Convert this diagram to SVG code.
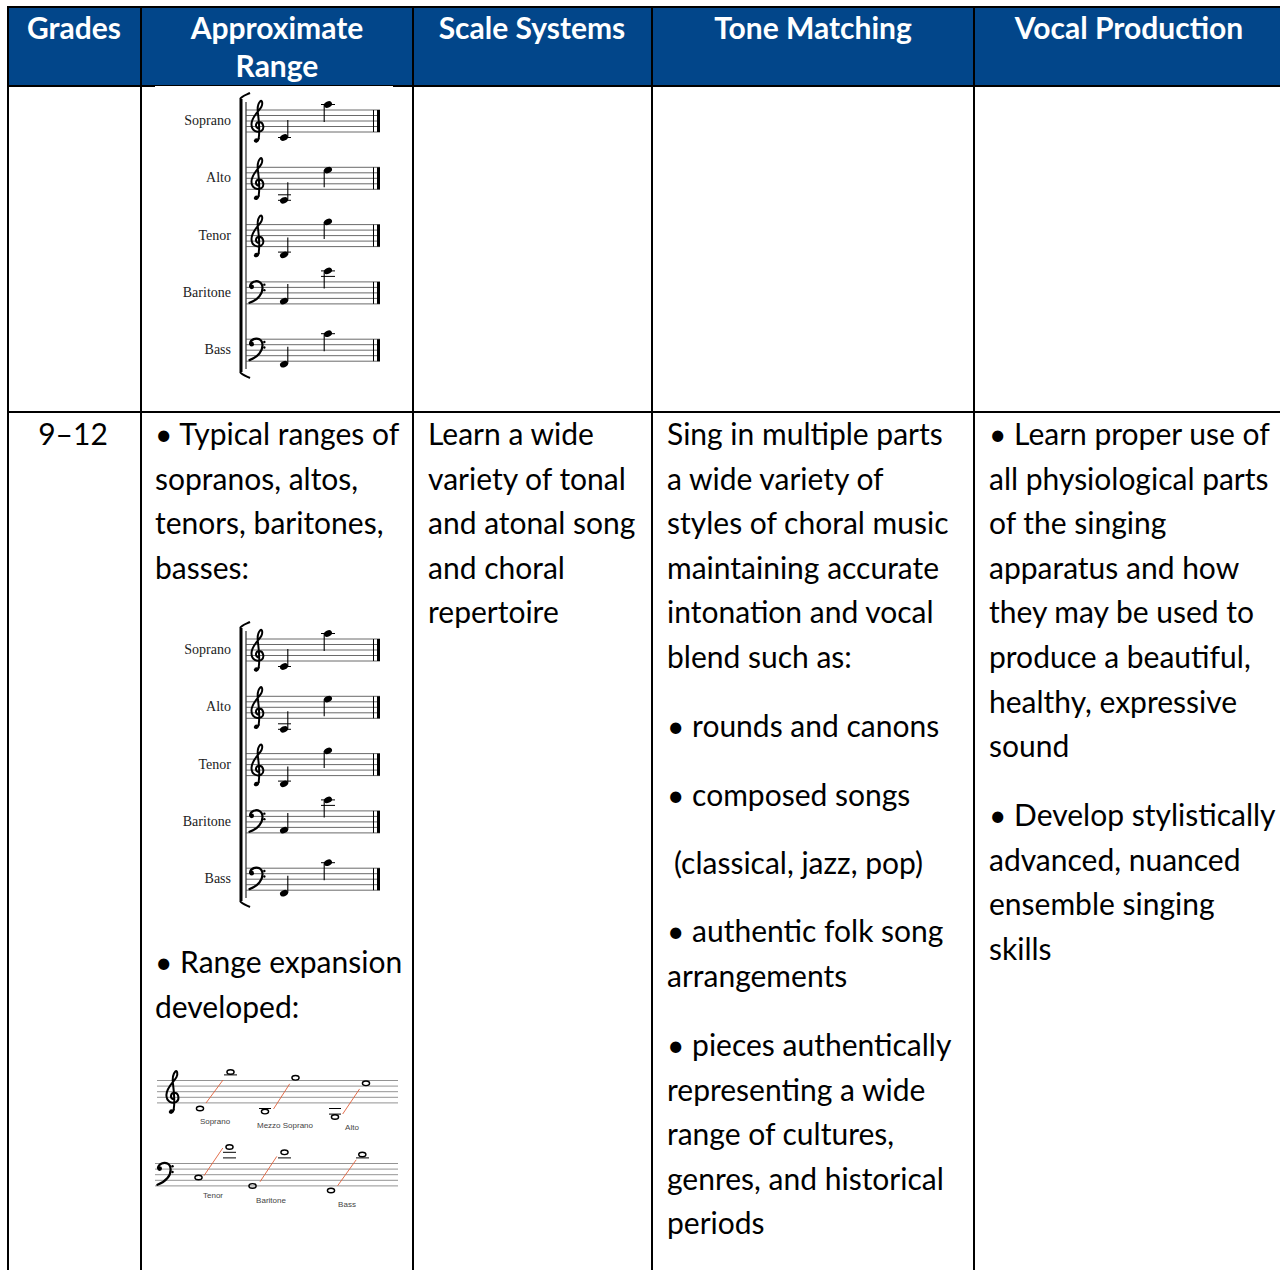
<svg xmlns="http://www.w3.org/2000/svg" xmlns:xlink="http://www.w3.org/1999/xlink" width="1280" height="1270" viewBox="0 0 1280 1270">
<style>
.hd{font-family:Lato,"Liberation Sans",sans-serif;font-weight:bold;font-size:30px;fill:#fff;text-anchor:middle}
.tx{font-family:Lato,"Liberation Sans",sans-serif;font-size:30px;fill:#000}
.grid{stroke:#000;stroke-width:2;fill:none}
.lbl{font-family:"Liberation Serif",serif;font-size:14px;fill:#222;text-anchor:end}
.sl{stroke:#444;stroke-width:0.8}
.nh{fill:#000}
.stem{stroke:#000;stroke-width:1.1}
.led{stroke:#000;stroke-width:1}
.clef{fill:none;stroke:#000;stroke-width:3.6;stroke-linecap:round}
.rl{stroke:#777;stroke-width:0.8}
.wn{fill:none;stroke:#000;stroke-width:1.4}
.red{stroke:#e0603a;stroke-width:0.9}
.sm{font-family:"Liberation Sans",sans-serif;font-size:8px;fill:#444;text-anchor:middle}
</style>
<defs>
<g id="treble"><path class="clef" d="M3,52 C5,40 4,24 2,8 C0,-4 2,-12 6,-16 C9,-19 11,-12 8,-6 C4,2 -10,12 -10,26 C-10,38 0,42 8,38 C14,34 12,22 4,22 C-2,22 -4,30 1,33"/><path class="clef" d="M3,52 C2,58 -3,59 -4,56"/><circle cx="-1" cy="55" r="3.8"/></g>
<g id="bass"><circle cx="-6" cy="9" r="4.2"/><path class="clef" d="M-9,8 C-8,0 2,-3 8,0 C16,4 15,18 8,26 C3,32 -4,36 -10,38" style="stroke-width:4"/><circle cx="17" cy="5" r="2.2"/><circle cx="17" cy="15" r="2.2"/></g>
<g id="staff"><line class="sl" x1="246" y1="0" x2="380" y2="0"/><line class="sl" x1="246" y1="5.5" x2="380" y2="5.5"/><line class="sl" x1="246" y1="11" x2="380" y2="11"/><line class="sl" x1="246" y1="16.5" x2="380" y2="16.5"/><line class="sl" x1="246" y1="22" x2="380" y2="22"/><line x1="373.5" y1="0" x2="373.5" y2="22" stroke="#000" stroke-width="1"/><line x1="378.5" y1="0" x2="378.5" y2="22" stroke="#000" stroke-width="3"/></g>
<g id="choir">
<rect x="155" y="86" width="238" height="290" fill="#fff"/>
<path d="M241,99 L241,372" stroke="#000" stroke-width="3"/>
<path d="M240,99 C242,96 246,95 250,93" fill="none" stroke="#000" stroke-width="2"/>
<path d="M240,372 C242,375 246,376 250,378" fill="none" stroke="#000" stroke-width="2"/>
<line x1="246" y1="102" x2="246" y2="369" stroke="#000" stroke-width="1"/>
<g transform="translate(0,110)"><use xlink:href="#staff"/><use xlink:href="#treble" transform="translate(257,0) scale(0.55)"/>
<line class="led" x1="278" y1="27.5" x2="291" y2="27.5"/><ellipse class="nh" cx="284" cy="27.5" rx="4.2" ry="3" transform="rotate(-25 284 27.5)"/><line class="stem" x1="287.8" y1="27" x2="287.8" y2="10"/>
<line class="led" x1="321" y1="-5.5" x2="335" y2="-5.5"/><ellipse class="nh" cx="328" cy="-5.5" rx="4.2" ry="3" transform="rotate(-25 328 -5.5)"/><line class="stem" x1="324.2" y1="-5" x2="324.2" y2="12"/></g>
<text class="lbl" x="231" y="125">Soprano</text>
<g transform="translate(0,167.3)"><use xlink:href="#staff"/><use xlink:href="#treble" transform="translate(257,0) scale(0.55)"/>
<line class="led" x1="278" y1="27.5" x2="291" y2="27.5"/><line class="led" x1="278" y1="33" x2="291" y2="33"/><ellipse class="nh" cx="284" cy="33" rx="4.2" ry="3" transform="rotate(-25 284 33)"/><line class="stem" x1="287.8" y1="32.5" x2="287.8" y2="15"/>
<ellipse class="nh" cx="328" cy="2.75" rx="4.2" ry="3" transform="rotate(-25 328 2.75)"/><line class="stem" x1="324.2" y1="3" x2="324.2" y2="20"/></g>
<text class="lbl" x="231" y="182.3">Alto</text>
<g transform="translate(0,224.6)"><use xlink:href="#staff"/><use xlink:href="#treble" transform="translate(257,0) scale(0.55)"/>
<line class="led" x1="278" y1="27.5" x2="291" y2="27.5"/><ellipse class="nh" cx="284" cy="30.25" rx="4.2" ry="3" transform="rotate(-25 284 30.25)"/><line class="stem" x1="287.8" y1="29.8" x2="287.8" y2="13"/>
<ellipse class="nh" cx="328" cy="-2.75" rx="4.2" ry="3" transform="rotate(-25 328 -2.75)"/><line class="stem" x1="324.2" y1="-2.5" x2="324.2" y2="14.5"/></g>
<text class="lbl" x="231" y="239.6">Tenor</text>
<g transform="translate(0,281.9)"><use xlink:href="#staff"/><use xlink:href="#bass" transform="translate(255,0) scale(0.55)"/>
<ellipse class="nh" cx="284" cy="19.25" rx="4.2" ry="3" transform="rotate(-25 284 19.25)"/><line class="stem" x1="287.8" y1="18.8" x2="287.8" y2="2"/>
<line class="led" x1="321" y1="-5.5" x2="335" y2="-5.5"/><line class="led" x1="321" y1="-11" x2="335" y2="-11"/><ellipse class="nh" cx="328" cy="-11" rx="4.2" ry="3" transform="rotate(-25 328 -11)"/><line class="stem" x1="324.2" y1="-10.5" x2="324.2" y2="6.5"/></g>
<text class="lbl" x="231" y="296.9">Baritone</text>
<g transform="translate(0,339.2)"><use xlink:href="#staff"/><use xlink:href="#bass" transform="translate(255,0) scale(0.55)"/>
<ellipse class="nh" cx="284" cy="25" rx="4.2" ry="3" transform="rotate(-25 284 25)"/><line class="stem" x1="287.8" y1="24.5" x2="287.8" y2="7.5"/>
<line class="led" x1="321" y1="-5.5" x2="335" y2="-5.5"/><ellipse class="nh" cx="328" cy="-5.5" rx="4.2" ry="3" transform="rotate(-25 328 -5.5)"/><line class="stem" x1="324.2" y1="-5" x2="324.2" y2="12"/></g>
<text class="lbl" x="231" y="354.2">Bass</text>
</g>
</defs>

<g id="header">
<rect x="8" y="7" width="1280" height="79" fill="#02468a"/>
<text class="hd" x="74" y="39">Grades</text>
<text class="hd" x="277" y="39">Approximate</text>
<text class="hd" x="277" y="77">Range</text>
<text class="hd" x="532" y="39">Scale Systems</text>
<text class="hd" x="813" y="39">Tone Matching</text>
<text class="hd" x="1129" y="39">Vocal Production</text>
</g>

<g id="grid">
<line class="grid" x1="7" y1="7" x2="1290" y2="7"/>
<line class="grid" x1="7" y1="86" x2="1290" y2="86"/>
<line class="grid" x1="7" y1="412" x2="1290" y2="412"/>
<line class="grid" x1="8" y1="6" x2="8" y2="1270"/>
<line class="grid" x1="141" y1="6" x2="141" y2="1270"/>
<line class="grid" x1="413" y1="6" x2="413" y2="1270"/>
<line class="grid" x1="652" y1="6" x2="652" y2="1270"/>
<line class="grid" x1="974" y1="6" x2="974" y2="1270"/>
</g>

<g id="row1-range"><use xlink:href="#choir"/></g>

<g id="row2-grades"><text class="tx" x="73" y="445" text-anchor="middle">9–12</text></g>

<g id="row2-range">
<text class="tx" x="155" y="445">• Typical ranges of</text>
<text class="tx" x="155" y="489.6">sopranos, altos,</text>
<text class="tx" x="155" y="534.2">tenors, baritones,</text>
<text class="tx" x="155" y="578.8">basses:</text>
<use xlink:href="#choir" transform="translate(0,529)"/>
<text class="tx" x="155" y="973">• Range expansion</text>
<text class="tx" x="155" y="1017.6">developed:</text>
<g id="expansion">
<rect x="155" y="1060" width="245" height="160" fill="#fff"/>
<line class="rl" x1="157" y1="1080.5" x2="398" y2="1080.5"/><line class="rl" x1="157" y1="1086.1" x2="398" y2="1086.1"/><line class="rl" x1="157" y1="1091.7" x2="398" y2="1091.7"/><line class="rl" x1="157" y1="1097.3" x2="398" y2="1097.3"/><line class="rl" x1="157" y1="1102.9" x2="398" y2="1102.9"/>
<use xlink:href="#treble" transform="translate(172,1080.5) scale(0.56)"/>
<line class="red" x1="206" y1="1103" x2="223" y2="1080"/>
<ellipse class="wn" cx="200" cy="1108.5" rx="3.6" ry="2.3"/>
<line class="led" x1="224" y1="1074.9" x2="237" y2="1074.9"/><ellipse class="wn" cx="230.5" cy="1072" rx="3.6" ry="2.3"/>
<text class="sm" x="215" y="1124">Soprano</text>
<line class="red" x1="273.5" y1="1109" x2="289.7" y2="1083.8"/>
<line class="led" x1="259" y1="1108.5" x2="271" y2="1108.5"/><ellipse class="wn" cx="265" cy="1111.6" rx="3.6" ry="2.3"/>
<ellipse class="wn" cx="295.5" cy="1077.8" rx="3.6" ry="2.3"/>
<text class="sm" x="285" y="1127.5">Mezzo Soprano</text>
<line class="red" x1="342.7" y1="1114" x2="359.6" y2="1088.9"/>
<line class="led" x1="329" y1="1108.5" x2="341" y2="1108.5"/><line class="led" x1="329" y1="1114.1" x2="341" y2="1114.1"/><ellipse class="wn" cx="335" cy="1117" rx="3.6" ry="2.3"/>
<ellipse class="wn" cx="366" cy="1083.3" rx="3.6" ry="2.3"/>
<text class="sm" x="352" y="1130">Alto</text>
<line class="rl" x1="155" y1="1163.5" x2="398" y2="1163.5"/><line class="rl" x1="155" y1="1169.1" x2="398" y2="1169.1"/><line class="rl" x1="155" y1="1174.7" x2="398" y2="1174.7"/><line class="rl" x1="155" y1="1180.3" x2="398" y2="1180.3"/><line class="rl" x1="155" y1="1185.9" x2="398" y2="1185.9"/>
<use xlink:href="#bass" transform="translate(163,1163.5) scale(0.56)"/>
<line class="red" x1="204" y1="1175.7" x2="222.8" y2="1148"/>
<ellipse class="wn" cx="198.5" cy="1177.5" rx="3.6" ry="2.3"/>
<line class="led" x1="223" y1="1152.3" x2="236" y2="1152.3"/><line class="led" x1="223" y1="1157.9" x2="236" y2="1157.9"/><ellipse class="wn" cx="229.5" cy="1147" rx="3.6" ry="2.3"/>
<text class="sm" x="213" y="1198">Tenor</text>
<line class="red" x1="260" y1="1181.8" x2="276.8" y2="1156.4"/>
<ellipse class="wn" cx="252.5" cy="1185.9" rx="3.6" ry="2.3"/>
<line class="led" x1="278" y1="1157.9" x2="291" y2="1157.9"/><ellipse class="wn" cx="284.5" cy="1152.3" rx="3.6" ry="2.3"/>
<text class="sm" x="271" y="1203">Baritone</text>
<line class="red" x1="337.6" y1="1185.8" x2="356.2" y2="1159.8"/>
<ellipse class="wn" cx="331" cy="1190.5" rx="3.6" ry="2.3"/>
<line class="led" x1="356" y1="1157.9" x2="369" y2="1157.9"/><ellipse class="wn" cx="362.3" cy="1154.5" rx="3.6" ry="2.3"/>
<text class="sm" x="347" y="1207">Bass</text>
</g>
</g>

<g id="row2-scale">
<text class="tx" x="428" y="445">Learn a wide</text>
<text class="tx" x="428" y="489.6">variety of tonal</text>
<text class="tx" x="428" y="534.2">and atonal song</text>
<text class="tx" x="428" y="578.8">and choral</text>
<text class="tx" x="428" y="623.4">repertoire</text>
</g>

<g id="row2-tone">
<text class="tx" x="667" y="445">Sing in multiple parts</text>
<text class="tx" x="667" y="489.6">a wide variety of</text>
<text class="tx" x="667" y="534.2">styles of choral music</text>
<text class="tx" x="667" y="578.8">maintaining accurate</text>
<text class="tx" x="667" y="623.4">intonation and vocal</text>
<text class="tx" x="667" y="668">blend such as:</text>
<text class="tx" x="667" y="737">• rounds and canons</text>
<text class="tx" x="667" y="806">• composed songs</text>
<text class="tx" x="674" y="874">(classical, jazz, pop)</text>
<text class="tx" x="667" y="942">• authentic folk song</text>
<text class="tx" x="667" y="986.6">arrangements</text>
<text class="tx" x="667" y="1056">• pieces authentically</text>
<text class="tx" x="667" y="1100.6">representing a wide</text>
<text class="tx" x="667" y="1145.2">range of cultures,</text>
<text class="tx" x="667" y="1189.8">genres, and historical</text>
<text class="tx" x="667" y="1234.4">periods</text>
</g>

<g id="row2-vocal">
<text class="tx" x="989" y="445">• Learn proper use of</text>
<text class="tx" x="989" y="489.6">all physiological parts</text>
<text class="tx" x="989" y="534.2">of the singing</text>
<text class="tx" x="989" y="578.8">apparatus and how</text>
<text class="tx" x="989" y="623.4">they may be used to</text>
<text class="tx" x="989" y="668">produce a beautiful,</text>
<text class="tx" x="989" y="712.6">healthy, expressive</text>
<text class="tx" x="989" y="757.2">sound</text>
<text class="tx" x="989" y="826">• Develop stylistically</text>
<text class="tx" x="989" y="870.6">advanced, nuanced</text>
<text class="tx" x="989" y="915.2">ensemble singing</text>
<text class="tx" x="989" y="959.8">skills</text>
</g>
</svg>
